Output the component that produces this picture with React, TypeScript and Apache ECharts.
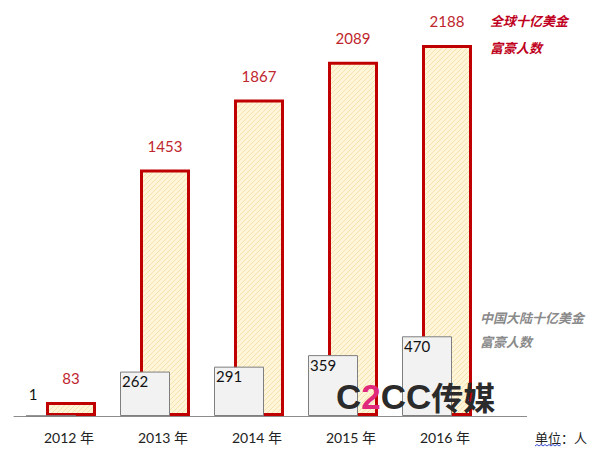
import React, { useEffect, useRef } from "react";
import * as echarts from "echarts";

const years = ["2012 年", "2013 年", "2014 年", "2015 年", "2016 年"];
const chinaValues = [1, 262, 291, 359, 470];
const globalValues = [83, 1453, 1867, 2089, 2188];
const globalLegend = ["全球十亿美金", "富豪人数"];
const chinaLegend = ["中国大陆十亿美金", "富豪人数"];
const unitText = "单位：人";

function makeHatch(): HTMLCanvasElement {
  const s = 5;
  const c = document.createElement("canvas");
  c.width = s;
  c.height = s;
  const ctx = c.getContext("2d")!;
  ctx.fillStyle = "#fff6da";
  ctx.fillRect(0, 0, s, s);
  ctx.strokeStyle = "rgba(235,205,130,0.5)";
  ctx.lineWidth = 1;
  ctx.beginPath();
  ctx.moveTo(-1, s + 1);
  ctx.lineTo(s + 1, -1);
  ctx.moveTo(-1, 1);
  ctx.lineTo(1, -1);
  ctx.moveTo(s - 1, s + 1);
  ctx.lineTo(s + 1, s - 1);
  ctx.stroke();
  return c;
}

export default function App() {
  const ref = useRef<HTMLDivElement>(null);
  useEffect(() => {
    document.body.style.margin = "0";
    if (!ref.current) return;
    const chart = echarts.init(ref.current, undefined, { renderer: "svg" });
    const numFont = "Lato, 'Noto Sans', sans-serif";
    const cjkFont = "'Noto Sans CJK SC', sans-serif";
    const hatch = makeHatch();
    chart.setOption({
      animation: false,
      backgroundColor: "#ffffff",
      grid: { left: 14, width: 470, top: 9, bottom: 36 },
      xAxis: {
        type: "category",
        data: years,
        axisLine: { show: true, lineStyle: { color: "#8c8c8c", width: 1 } },
        axisTick: { show: false },
        axisLabel: {
          color: "#222",
          fontSize: 14,
          fontFamily: "Lato, 'Noto Sans CJK SC', sans-serif",
          margin: 14,
          padding: [0, 0, 0, 16],
        },
      },
      yAxis: {
        type: "value",
        min: 0,
        max: 2400,
        show: false,
        splitLine: { show: false },
      },
      series: [
        {
          name: "china",
          type: "bar",
          z: 3,
          barWidth: 50,
          barGap: "-60%",
          data: chinaValues.map((v, i) =>
            i === 0
              ? { value: v, label: { position: "top", offset: [-18, -12] } }
              : v
          ),
          itemStyle: { color: "#f2f2f3", borderColor: "#7f7f7f", borderWidth: 1 },
          label: {
            show: true,
            position: "insideTopLeft",
            distance: 2,
            color: "#111",
            fontSize: 15,
            fontFamily: numFont,
          },
        },
        {
          name: "global",
          type: "bar",
          z: 2,
          barWidth: 50,
          data: globalValues,
          itemStyle: {
            color: { image: hatch, repeat: "repeat" },
            borderColor: "#c00000",
            borderWidth: 3,
          },
          label: {
            show: true,
            position: "top",
            distance: 16,
            color: "#c0262d",
            fontSize: 15,
            fontFamily: numFont,
          },
        },
      ],
      graphic: [
        {
          type: "line",
          shape: { x1: 484, y1: 416.5, x2: 527, y2: 416.5 },
          style: { stroke: "#8c8c8c", lineWidth: 1 },
        },
        {
          type: "text",
          x: 490,
          y: 20,
          style: {
            text: globalLegend[0],
            fill: "#c00020",
            font: `italic bold 13px ${cjkFont}`,
            verticalAlign: "middle",
          },
        },
        {
          type: "text",
          x: 490,
          y: 47,
          style: {
            text: globalLegend[1],
            fill: "#c00020",
            font: `italic bold 13px ${cjkFont}`,
            verticalAlign: "middle",
          },
        },
        {
          type: "text",
          x: 480,
          y: 317,
          style: {
            text: chinaLegend[0],
            fill: "#8a8a8a",
            font: `italic bold 13px ${cjkFont}`,
            verticalAlign: "middle",
          },
        },
        {
          type: "text",
          x: 480,
          y: 341,
          style: {
            text: chinaLegend[1],
            fill: "#8a8a8a",
            font: `italic bold 13px ${cjkFont}`,
            verticalAlign: "middle",
          },
        },
        {
          type: "text",
          x: 336,
          y: 396,
          z: 10,
          style: {
            text: "{a|C}{b|2}{a|CC}{c|传媒}",
            verticalAlign: "middle",
            rich: {
              a: { fill: "#2b2b2b", font: "bold 35px 'Liberation Sans', sans-serif" },
              b: { fill: "#e0287d", font: "bold 35px 'Liberation Sans', sans-serif" },
              c: { fill: "#2b2b2b", font: "bold 32px 'Noto Sans CJK SC', sans-serif" },
            },
          },
        },
        {
          type: "text",
          x: 535,
          y: 437,
          style: {
            text: unitText,
            fill: "#222",
            font: `13px ${cjkFont}`,
            verticalAlign: "middle",
          },
        },
        {
          type: "polyline",
          shape: {
            points: [
              [535, 446], [537, 444.5], [539, 446], [541, 444.5], [543, 446],
              [545, 444.5], [547, 446], [549, 444.5], [551, 446], [553, 444.5],
              [555, 446], [557, 444.5], [559, 446], [561, 444.5],
            ],
          },
          style: { stroke: "#3b4fd0", lineWidth: 1, fill: null },
        },
      ],
    });
    return () => chart.dispose();
  }, []);
  return <div ref={ref} style={{ width: 600, height: 452 }} />;
}
